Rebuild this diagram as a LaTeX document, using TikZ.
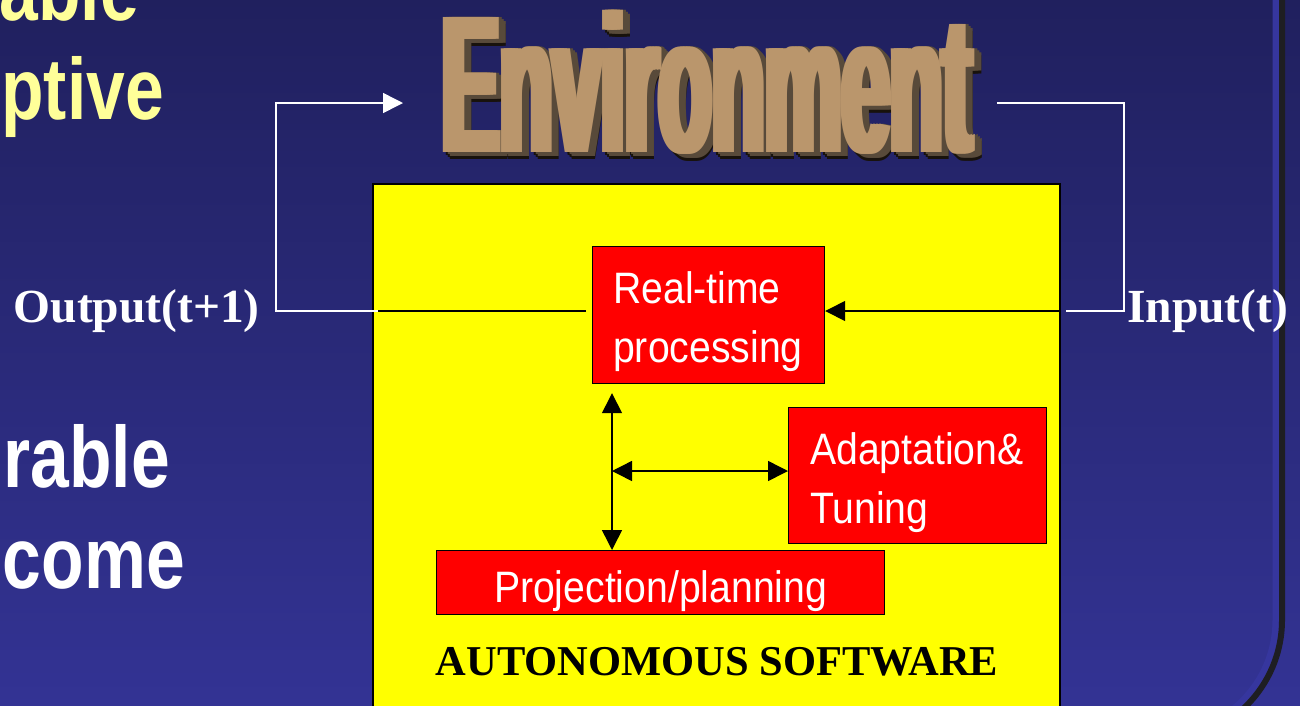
\documentclass[tikz,border=0pt]{standalone}
\usepackage{fontspec}
\setmainfont{Liberation Serif}
\newfontfamily\boxfont{Liberation Sans}[FakeStretch=0.89]
\newfontfamily\sidefont{Liberation Sans}[FakeStretch=0.8]
\newfontfamily\envfont{Liberation Sans}
\usetikzlibrary{arrows.meta,calc}

\definecolor{bgtop}{RGB}{32,32,94}
\definecolor{bgbot}{RGB}{51,51,148}
\definecolor{rim}{RGB}{54,54,158}
\definecolor{rimline}{RGB}{30,30,34}
\definecolor{paleyellow}{RGB}{255,255,153}
\definecolor{envface}{RGB}{186,150,108}
\definecolor{envside}{RGB}{88,74,58}
\definecolor{envdeep}{RGB}{24,18,12}
\definecolor{boxred}{RGB}{255,0,0}
\definecolor{panel}{RGB}{255,255,0}

% condensed title word
\newcommand{\envword}{\resizebox{530pt}{142pt}{\envfont\bfseries Environment}}

\tikzset{
  sidetext/.style={font=\sidefont\bfseries\fontsize{87}{100}\selectfont, inner sep=0pt},
  envtxt/.style={inner sep=0pt, anchor=north west},
  panelbox/.style={draw=black, fill=panel, line width=2pt, inner sep=0pt, anchor=north west},
  redbox/.style={draw=black, fill=boxred, line width=1.2pt, inner sep=0pt, anchor=north west},
  boxtext/.style={font=\boxfont\fontsize{44}{58.5}\selectfont, text=white, inner sep=0pt, align=left, anchor=north west},
  iolabel/.style={font=\bfseries\fontsize{47.5}{56}\selectfont, text=white, inner sep=0pt, anchor=base west},
  wire/.style={draw=white, line width=1.5pt, line join=miter},
  link/.style={draw=black, line width=1.5pt},
}

\begin{document}
\begin{tikzpicture}[x=1pt, y=-1pt, >={Triangle[length=20pt,width=20pt]}]
\useasboundingbox (0,0) rectangle (1300,705);
\clip (0,0) rectangle (1300,705);

% slide background
\shade[top color=bgtop, bottom color=bgbot] (0,0) rectangle (1300,705);

% rounded frame on the right
\draw[rim, line width=7pt] (1276,-5) -- (1276,620) .. controls (1276,683.5) and (1224.5,735) .. (1161,735);
\draw[rimline, line width=6pt] (1282,-5) -- (1282,620) .. controls (1282,686.8) and (1227.8,741) .. (1161,741);

% text running in from the left
\node[sidetext, text=paleyellow, anchor=base east] (fragA) at (139,20) {able};
\node[sidetext, text=paleyellow, anchor=base east] (fragB) at (164,119) {ptive};
\node[sidetext, text=white, anchor=base east] (fragC) at (170,487) {rable};
\node[sidetext, text=white, anchor=base east] (fragD) at (185,588) {come};

% title: dark underside, lit right-hand sides, then the thickened face
\foreach \d in {7,5,3}
  \foreach \s in {0,3,6,9}
    \node[envtxt, text=envdeep] (envd-\d-\s) at ({437+\s+\d},{10+\d}) {\envword};
\foreach \d/\e in {7/4,5/2,3/0}
  \foreach \s in {0,3,6,9}
    \node[envtxt, text=envside] (envs-\d-\s) at ({437+\s+\d},{10+\e}) {\envword};
\foreach \s in {9,6,3}
  \node[envtxt, text=envface] (envf-\s) at ({437+\s},10) {\envword};
\node[envtxt, text=envface] (env) at (437,10) {\envword};

% software panel and its blocks
\node[panelbox, minimum width=687pt, minimum height=540pt] (sw) at (372,183) {};
\node[redbox, minimum width=232pt, minimum height=137pt] (rt) at (592,246) {};
\node[boxtext] (rtT) at (613,271.5) {Real-time\\processing};
\node[redbox, minimum width=258pt, minimum height=136pt] (ad) at (788,407) {};
\node[boxtext] (adT) at (810,432.5) {Adaptation\&\\Tuning};
\node[redbox, minimum width=448pt, minimum height=64pt, text height=50pt, text depth=10pt,
      font=\boxfont\fontsize{44}{52}\selectfont, text=white] (pp) at (436,550) {Projection/planning};
\node[font=\bfseries\fontsize{42.5}{50}\selectfont, inner sep=0pt, anchor=base] (swT) at (717,675) {AUTONOMOUS SOFTWARE};

% input / output labels
\node[iolabel] (outL) at (13.5,322) {Output(t+1)};
\node[iolabel] (inL) at (1127,322) {Input(t)};

% routing points
\coordinate (lvl) at (0,311);
\coordinate (vx) at (612,0);
\coordinate (hy) at (0,471);
\coordinate (outTurn) at (276,311);
\coordinate (outTop) at (276,103);
\coordinate (inTurn) at (1124,311);
\coordinate (inTop) at (1124,103);

% output loop back to the environment
\draw[link] ([xshift=-6pt]rt.west |- lvl) -- ([xshift=6pt]sw.west |- lvl);
\draw[wire,->] ([xshift=6pt]sw.west |- lvl) -- (outTurn) -- (outTop) -- ([xshift=-34pt]env.west |- outTop);

% input from the environment
\draw[wire] ([xshift=29pt]env.east |- inTop) -- (inTop) -- (inTurn) -- ([xshift=5pt]sw.east |- lvl);
\draw[link,->] (sw.east |- lvl) -- (rt.east |- lvl);

% internal exchanges
\draw[link,<->] ([yshift=-9pt]vx |- rt.south) -- (vx |- pp.north);
\draw[link,<->] (vx |- hy) -- (ad.west |- hy);
\end{tikzpicture}
\end{document}
